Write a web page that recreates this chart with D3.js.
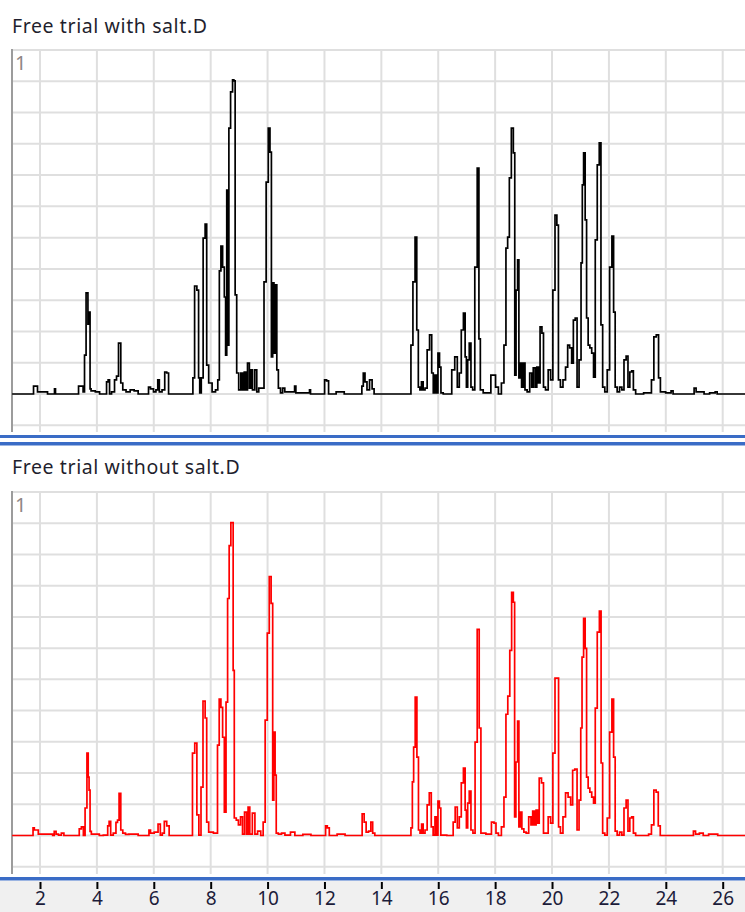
<!DOCTYPE html>
<html>
<head>
<meta charset="utf-8">
<script src="https://cdn.jsdelivr.net/npm/d3@7"></script>
<style>
  html, body { margin: 0; padding: 0; background: #fff; }
  svg { display: block; }
</style>
</head>
<body>
<div id="chart"></div>
<script>
// Retention time (min) and relative signal, one [time, signal] pair per trace vertex.
const withSalt = [
  [1.02,0],[1.755,0],[1.79,0.023],[1.895,0.023],[1.93,0.006],[2.25,0.006],[2.28,0],[2.49,0],[2.53,0.015],[2.56,0],
  [3.34,0],[3.37,0.023],[3.48,0.023],[3.55,0.006],[3.58,0.113],[3.66,0.294],[3.71,0.203],[3.74,0.238],[3.78,0.015],[3.81,0.009],
  [4.08,0.006],[4.11,0],[4.32,0],[4.36,0.035],[4.43,0.041],[4.46,0],[4.57,0.006],[4.67,0.041],[4.71,0.052],[4.81,0.148],
  [4.87,0.032],[4.95,0.012],[5.10,0.006],[5.24,0.012],[5.38,0.009],[5.52,0],[5.80,0],[5.83,0.020],[5.94,0.015],[6.04,0.006],
  [6.11,0.012],[6.17,0.041],[6.22,0.006],[6.36,0.012],[6.41,0.064],[6.50,0.061],[6.54,0],[7.35,0],[7.40,0.047],[7.47,0.314],
  [7.56,0.302],[7.59,0.047],[7.64,0.003],[7.70,0.047],[7.77,0.453],[7.84,0.494],[7.88,0.084],[7.98,0.032],[8.12,0.006],[8.22,0.012],
  [8.28,0.041],[8.33,0.358],[8.39,0.430],[8.45,0.369],[8.51,0.282],[8.54,0.113],[8.59,0.593],[8.62,0.142],[8.66,0.773],[8.74,0.878],
  [8.80,0.913],[8.83,0.910],[8.89,0.288],[8.94,0.061],[9.03,0.012],[9.09,0.061],[9.15,0.012],[9.21,0.064],[9.26,0.012],[9.33,0.090],
  [9.39,0.017],[9.44,0.070],[9.50,0.012],[9.60,0.070],[9.64,0.006],[9.74,0.017],[9.84,0.017],[9.91,0.326],[9.99,0.616],[10.06,0.773],
  [10.11,0.703],[10.16,0.108],[10.20,0.323],[10.25,0.119],[10.30,0.317],[10.35,0.070],[10.41,0.017],[10.50,0.003],[10.56,0.017],[10.65,0.006],
  [10.93,0.006],[10.97,0.023],[11.02,0.003],[11.46,0.003],[11.49,0.012],[11.53,0],[11.99,0],[12.02,0.041],[12.13,0.038],[12.16,0],
  [12.66,0.006],[12.73,0],[13.29,0],[13.34,0.023],[13.39,0.061],[13.46,0.035],[13.53,0.012],[13.64,0.041],[13.71,0.015],[13.78,0],
  [15.01,0],[15.07,0.142],[15.15,0.326],[15.22,0.456],[15.27,0.186],[15.33,0.020],[15.38,0.012],[15.44,0.035],[15.50,0.012],[15.57,0.017],
  [15.65,0.128],[15.74,0.172],[15.80,0.061],[15.85,0.003],[15.92,0.055],[15.97,0.003],[16.01,0.119],[16.08,0.078],[16.11,0.003],[16.24,0],
  [16.42,0],[16.53,0.070],[16.63,0.108],[16.71,0.020],[16.77,0.061],[16.85,0.186],[16.92,0.235],[16.97,0.108],[17.01,0.020],[17.06,0.099],
  [17.12,0.148],[17.18,0.020],[17.24,0.012],[17.33,0.369],[17.41,0.657],[17.45,0.160],[17.51,0.012],[17.65,0.003],[17.82,0.003],[17.88,0.055],
  [17.97,0.055],[18.06,0.020],[18.17,0],[18.27,0.032],[18.35,0.142],[18.41,0.424],[18.47,0.456],[18.53,0.628],[18.61,0.773],[18.67,0.701],
  [18.71,0.055],[18.76,0.302],[18.82,0.390],[18.85,0.047],[18.90,0.090],[18.96,0.020],[19.02,0.090],[19.08,0.012],[19.17,0.006],[19.26,0.061],
  [19.31,0.020],[19.37,0.076],[19.44,0.020],[19.49,0.078],[19.55,0.032],[19.61,0.195],[19.68,0.177],[19.72,0.020],[19.82,0.012],[19.91,0.070],
  [19.99,0.041],[20.07,0.302],[20.14,0.520],[20.20,0.491],[20.25,0.041],[20.34,0.020],[20.43,0.041],[20.52,0.078],[20.58,0.142],[20.66,0.134],
  [20.72,0.090],[20.78,0.215],[20.85,0.221],[20.91,0.020],[20.99,0.099],[21.05,0.381],[21.08,0.608],[21.14,0.701],[21.19,0.506],[21.24,0.221],
  [21.30,0.142],[21.36,0.134],[21.43,0.119],[21.49,0.049],[21.55,0.448],[21.63,0.666],[21.69,0.730],[21.75,0.201],[21.81,0.020],[21.90,0.006],
  [21.98,0.070],[22.07,0.369],[22.14,0.459],[22.19,0.238],[22.25,0.020],[22.33,0.006],[22.42,0.020],[22.49,0.012],[22.57,0.099],[22.64,0.110],
  [22.70,0.020],[22.77,0.064],[22.83,0.067],[22.89,0.012],[22.99,0],[23.45,0.003],[23.54,0.041],[23.62,0.166],[23.71,0.172],[23.78,0.047],
  [23.84,0.006],[24.15,0.003],[24.22,0.009],[24.29,0],[24.96,0],[25.03,0.017],[25.10,0.006],[25.31,0.006],[25.38,0],[25.70,0.003],
  [25.77,0.006],[25.84,0],[26.79,0]
];

const withoutSalt = [
  [1.02,0],[1.74,0],[1.77,0.022],[1.83,0.016],[1.93,0.016],[1.95,0.004],[2.42,0.004],[2.47,0],[2.53,0.012],[2.60,0.004],
  [2.70,0.001],[2.80,0.007],[2.88,0],[3.35,0],[3.41,0.019],[3.50,0.025],[3.55,0],[3.62,0.080],[3.68,0.240],[3.71,0.170],
  [3.74,0.132],[3.78,0.012],[3.83,0.004],[4.08,0.004],[4.09,0],[4.36,0.001],[4.40,0.028],[4.46,0.041],[4.51,0.001],[4.64,0.007],
  [4.70,0.038],[4.75,0.045],[4.81,0.123],[4.87,0.016],[4.95,0.007],[5.06,0.003],[5.19,0.004],[5.38,0.004],[5.52,0],[5.82,0],
  [5.84,0.016],[5.93,0.007],[6.10,0.010],[6.20,0.033],[6.26,0.001],[6.34,0.007],[6.40,0.041],[6.51,0.028],[6.57,0],[7.33,0],
  [7.39,0.240],[7.49,0.269],[7.54,0.060],[7.63,0.001],[7.69,0.141],[7.77,0.391],[7.84,0.342],[7.88,0.039],[7.98,0.010],[8.21,0.007],
  [8.27,0.263],[8.33,0.397],[8.39,0.373],[8.45,0.286],[8.51,0.068],[8.57,0.388],[8.62,0.690],[8.68,0.844],[8.74,0.911],[8.78,0.911],
  [8.80,0.481],[8.86,0.051],[8.94,0.045],[9.01,0.031],[9.09,0.054],[9.15,0.004],[9.23,0.068],[9.29,0.004],[9.34,0.083],[9.41,0.004],
  [9.52,0.065],[9.59,0.004],[9.71,0.013],[9.81,0],[9.88,0.039],[9.95,0.336],[10.03,0.589],[10.09,0.754],[10.16,0.676],[10.20,0.103],
  [10.24,0.301],[10.29,0.176],[10.32,0.007],[10.44,0.004],[10.54,0.007],[10.68,0.001],[10.93,0.010],[10.99,0],[11.49,0.003],[11.56,0],
  [12.02,0],[12.06,0.028],[12.14,0.022],[12.20,0],[12.69,0.004],[12.76,0],[13.29,0],[13.36,0.063],[13.43,0.039],[13.50,0.010],
  [13.60,0.013],[13.66,0.039],[13.73,0.007],[13.81,0],[15.01,0],[15.07,0.022],[15.11,0.156],[15.16,0.257],[15.22,0.403],[15.28,0.228],
  [15.33,0.016],[15.39,0.007],[15.44,0.033],[15.50,0.007],[15.57,0.016],[15.65,0.089],[15.72,0.124],[15.79,0.025],[15.85,0.001],[15.92,0.054],
  [15.97,0.001],[16.01,0.100],[16.07,0.080],[16.11,0.001],[16.49,0],[16.56,0.039],[16.63,0.083],[16.71,0.022],[16.77,0.054],[16.85,0.153],
  [16.92,0.196],[16.97,0.074],[17.01,0.022],[17.06,0.094],[17.12,0.129],[17.18,0.016],[17.26,0.007],[17.33,0.272],[17.41,0.600],[17.47,0.313],
  [17.53,0.007],[17.82,0.004],[17.92,0.039],[18.00,0.036],[18.06,0.007],[18.17,0],[18.27,0.025],[18.35,0.112],[18.41,0.353],[18.48,0.406],
  [18.55,0.539],[18.61,0.708],[18.67,0.679],[18.70,0.054],[18.76,0.214],[18.82,0.333],[18.85,0.025],[18.91,0.068],[18.97,0.019],[19.05,0.010],
  [19.13,0.007],[19.23,0.054],[19.29,0.031],[19.35,0.071],[19.41,0.031],[19.47,0.074],[19.52,0.036],[19.58,0.167],[19.68,0.153],[19.72,0.007],
  [19.82,0.007],[19.91,0.054],[19.99,0.036],[20.07,0.240],[20.14,0.458],[20.21,0.458],[20.25,0.025],[20.34,0.007],[20.43,0.054],[20.52,0.124],
  [20.61,0.112],[20.70,0.089],[20.75,0.190],[20.85,0.193],[20.91,0.016],[20.99,0.103],[21.03,0.313],[21.08,0.519],[21.14,0.632],[21.19,0.545],
  [21.24,0.170],[21.30,0.138],[21.36,0.126],[21.43,0.112],[21.49,0.094],[21.55,0.371],[21.63,0.592],[21.70,0.653],[21.75,0.211],[21.81,0.007],
  [21.90,0.001],[21.98,0.051],[22.07,0.301],[22.14,0.397],[22.19,0.228],[22.25,0.013],[22.33,0.001],[22.42,0.010],[22.49,0.001],[22.57,0.080],
  [22.64,0.103],[22.70,0.013],[22.77,0.051],[22.83,0.054],[22.89,0.007],[22.99,0],[23.34,0],[23.45,0.004],[23.54,0.031],[23.62,0.132],
  [23.70,0.126],[23.77,0.028],[23.84,0],[24.93,0],[25.01,0.013],[25.08,0.004],[25.28,0.007],[25.35,0],[25.66,0.004],[25.81,0.004],
  [25.84,0],[26.79,0]
];

const panelTitles = ["Free trial with salt.D", "Free trial without salt.D"];
const traceColors = ["#000000", "#ff0000"];
const timeTicks = [2, 4, 6, 8, 10, 12, 14, 16, 18, 20, 22, 24, 26];
const signalGrid = d3.range(-1, 12).map(k => k / 11);   // grid every 1/11 of full scale
const scaleLabel = "1";

const W = 745, H = 912;
const font = "'Noto Sans', 'Open Sans', sans-serif";
const svg = d3.select("#chart").append("svg")
  .attr("width", W).attr("height", H)
  .style("font-family", font);

const x = d3.scaleLinear().domain([2, 26]).range([40, 722.7]);
const plotLeft = 12, plotRight = W;

const panels = [
  { title: panelTitles[0], data: withSalt,    color: traceColors[0], titleY: 33,  top: 50,  base: 394,   bottom: 432 },
  { title: panelTitles[1], data: withoutSalt, color: traceColors[1], titleY: 474, top: 492, base: 835.5, bottom: 874 }
];

panels.forEach(p => {
  const y = d3.scaleLinear().domain([0, 1]).range([p.base, p.top]);
  const g = svg.append("g");

  g.append("text")
    .attr("x", 12).attr("y", p.titleY)
    .attr("font-size", 19.5).attr("letter-spacing", 0.6).attr("fill", "#1f1f2e")
    .text(p.title);

  // horizontal grid
  g.append("g").selectAll("line").data(signalGrid).join("line")
    .attr("x1", plotLeft).attr("x2", plotRight)
    .attr("y1", d => y(d)).attr("y2", d => y(d))
    .attr("stroke", "#dfdfdf").attr("stroke-width", 2);

  // vertical grid
  g.append("g").selectAll("line").data(timeTicks).join("line")
    .attr("x1", d => x(d)).attr("x2", d => x(d))
    .attr("y1", p.top).attr("y2", p.bottom)
    .attr("stroke", "#dfdfdf").attr("stroke-width", 2);

  // left axis line
  g.append("line")
    .attr("x1", plotLeft).attr("x2", plotLeft)
    .attr("y1", p.top - 1).attr("y2", p.bottom)
    .attr("stroke", "#9c9c9c").attr("stroke-width", 2);

  g.append("text")
    .attr("x", 15).attr("y", p.top + 20)
    .attr("font-size", 20).attr("fill", "#8f8686")
    .text(scaleLabel);

  // sampled detector trace, held between samples
  const line = d3.line().curve(d3.curveStep).x(d => x(d[0])).y(d => y(d[1]));
  g.append("path")
    .datum(p.data)
    .attr("d", line)
    .attr("fill", "none")
    .attr("stroke", p.color)
    .attr("stroke-width", 1.7)
    .attr("stroke-linejoin", "miter");
});

// panel separators
const sepBlue = "#3a6cc6";
svg.append("rect").attr("x", 0).attr("y", 435).attr("width", W).attr("height", 3).attr("fill", sepBlue);
svg.append("rect").attr("x", 0).attr("y", 442).attr("width", W).attr("height", 3.5).attr("fill", sepBlue);
svg.append("rect").attr("x", 0).attr("y", 877).attr("width", W).attr("height", 3.5).attr("fill", sepBlue);

// time axis strip
svg.append("rect").attr("x", 0).attr("y", 881).attr("width", W).attr("height", H - 881).attr("fill", "#f0f0f0");

const axis = d3.axisBottom(x).tickValues(timeTicks).tickSize(7).tickPadding(3).tickFormat(d3.format("d"));
const axisG = svg.append("g").attr("transform", "translate(0,882)").call(axis);
axisG.select(".domain").remove();
axisG.selectAll(".tick line").attr("stroke", "#000").attr("stroke-width", 2);
axisG.selectAll(".tick text")
  .attr("font-size", 19)
  .attr("font-family", font)
  .attr("fill", "#1c1c3a");
</script>
</body>
</html>
